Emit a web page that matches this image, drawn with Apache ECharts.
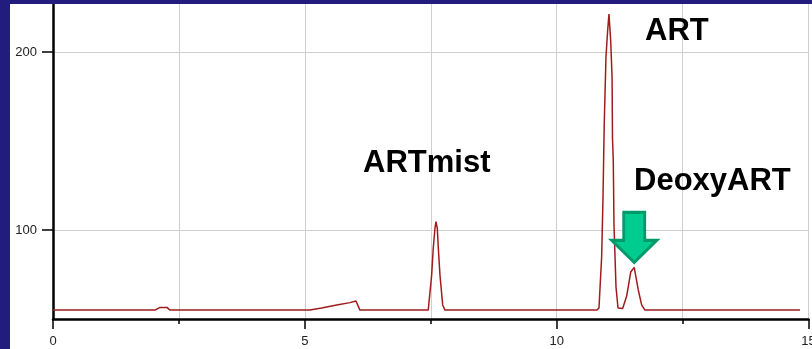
<!DOCTYPE html>
<html>
<head>
<meta charset="utf-8">
<script src="https://cdn.jsdelivr.net/npm/echarts@6/dist/echarts.min.js"></script>
<style>
  html, body { margin: 0; padding: 0; background: #ffffff; }
  #chart { width: 812px; height: 349px; }
</style>
</head>
<body>
<div id="chart"></div>
<script>
// Retention time (min) of each sampled point of the trace
const times = [
  0, 2.025, 2.124, 2.263, 2.323, 3.43, 3.454, 3.48,
  5.10, 5.136, 5.334, 5.632, 5.896, 6.015, 6.094,
  7.45, 7.518, 7.55, 7.584, 7.604, 7.63, 7.65, 7.683, 7.737, 7.782,
  10.80, 10.84, 10.893, 10.919, 10.945, 10.979, 11.012, 11.038, 11.072, 11.10, 11.108,
  11.124, 11.138, 11.178, 11.218, 11.31, 11.39, 11.47, 11.54, 11.62, 11.687, 11.752,
  14.83
];
// Detector response at each time
const signal = [
  55, 55, 56.5, 56.5, 55, 55, 55.8, 55,
  55, 55.6, 56.2, 57.9, 59.2, 60.1, 55,
  55, 74.7, 89.9, 101, 104.7, 101, 90, 74.7, 57.9, 55,
  55, 56.2, 84.8, 116.9, 160.1, 197.2, 212, 221.3, 206.7, 186, 152,
  139, 102.8, 68, 56.2, 55.9, 62.9, 76.4, 79, 66.3, 57.9, 55,
  55
];
// Axis settings
const xTicks = [0, 5, 10, 15];
const yTicks = [100, 200];
// Peak names and the time/value the arrow points at
const peakNames = ['ARTmist', 'ART', 'DeoxyART'];
const deoxyPeak = [11.54, 79];

const chart = echarts.init(document.getElementById('chart'), null, { renderer: 'canvas' });

const points = times.map((t, i) => [t, signal[i]]);
const labelFont = { fontFamily: 'Liberation Sans, Arial, sans-serif', fontSize: 13, color: '#222' };
const gridLine = { show: true, lineStyle: { color: '#cfcfcf', width: 1 } };

chart.setOption({
  animation: false,
  backgroundColor: '#ffffff',
  grid: { left: 53, right: 3.5, top: 4, bottom: 30, containLabel: false, outerBoundsMode: 'none' },
  xAxis: {
    type: 'value',
    min: xTicks[0],
    max: xTicks[xTicks.length - 1],
    interval: 5,
    axisLine: { show: true, onZero: false, lineStyle: { color: '#000', width: 2.5 } },
    axisTick: { show: true, length: 10, lineStyle: { color: '#000', width: 1.5 } },
    minorTick: { show: true, splitNumber: 2, length: 5, lineStyle: { color: '#000', width: 1.5 } },
    axisLabel: Object.assign({ margin: 16, hideOverlap: false }, labelFont),
    splitLine: gridLine,
    minorSplitLine: gridLine
  },
  yAxis: {
    type: 'value',
    min: 50,
    max: 227,
    axisLine: { show: true, onZero: false, lineStyle: { color: '#000', width: 2.5 } },
    axisTick: { show: true, length: 11, customValues: yTicks, lineStyle: { color: '#000', width: 1.5 } },
    axisLabel: Object.assign({ margin: 16, customValues: yTicks }, labelFont),
    splitLine: gridLine
  },
  series: [{
    type: 'line',
    data: points,
    showSymbol: false,
    lineStyle: { color: '#a01c1c', width: 1.5 },
    markPoint: {
      silent: true,
      data: [{
        coord: deoxyPeak,
        symbol: 'path://M12,0 L33,0 L33,28 L45,28 L22.5,50 L0,28 L12,28 Z',
        symbolSize: [45, 50],
        symbolOffset: [0, -30],
        itemStyle: { color: '#00cc8f', borderColor: '#009a6b', borderWidth: 3 },
        label: { show: false }
      }]
    }
  }],
  graphic: [
    { type: 'rect', shape: { x: 0, y: 0, width: 10, height: 349 }, style: { fill: '#201d7e' }, z: 100 },
    { type: 'rect', shape: { x: 0, y: 0, width: 812, height: 4 }, style: { fill: '#201d7e' }, z: 100 },
    { type: 'text', left: 363, top: 148, style: { text: peakNames[0], font: 'bold 31px "Liberation Sans", Arial, sans-serif', fill: '#000' }, z: 50 },
    { type: 'text', left: 645, top: 16, style: { text: peakNames[1], font: 'bold 31px "Liberation Sans", Arial, sans-serif', fill: '#000' }, z: 50 },
    { type: 'text', left: 634, top: 166, style: { text: peakNames[2], font: 'bold 31px "Liberation Sans", Arial, sans-serif', fill: '#000' }, z: 50 }
  ]
});
</script>
</body>
</html>
